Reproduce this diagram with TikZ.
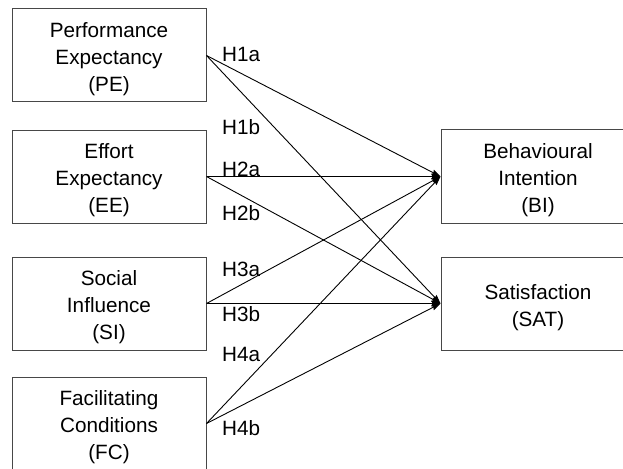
\documentclass[tikz,border=0pt]{standalone}
\usepackage{fontspec}
\setmainfont{Liberation Sans}
\usetikzlibrary{arrows.meta}
\newcommand\topst{\rule{0pt}{23pt}}
\begin{document}
\begin{tikzpicture}[x=1pt,y=-1pt,
  box/.style={draw=black!72,line width=1pt,minimum width=194pt,minimum height=93pt,inner sep=0pt,align=center,
    font=\fontsize{20.7}{26.9}\selectfont},
  hyp/.style={anchor=base west,inner sep=0pt,font=\fontsize{20.7}{24}\selectfont},
  conn/.style={line width=0.9pt,-{Stealth[length=9pt,width=6pt,inset=1pt]}}]
\useasboundingbox (0,0) rectangle (623,468);
\clip (0,0) rectangle (623,468);
\node[box] (pe) at (109,55.5) {\topst Performance\\Expectancy\\(PE)};
\node[box] (ee) at (109,176.5) {\topst Effort\\Expectancy\\(EE)};
\node[box] (si) at (109,303.5) {\topst Social\\Influence\\(SI)};
\node[box] (fc) at (109,423.5) {\topst Facilitating\\Conditions\\(FC)};
\node[box,minimum height=94pt] (bi) at (538,176.5) {\topst Behavioural\\Intention\\(BI)};
\node[box] (sat) at (538,303.5) {\topst Satisfaction\\(SAT)};
\foreach \s in {pe,ee,si,fc}{
  \draw[conn] (\s.east) -- (bi.west);
  \draw[conn] (\s.east) -- (sat.west);
}
\node[hyp] (h1a) at (222,61.5) {H1a};
\node[hyp] (h1b) at (222,135) {H1b};
\node[hyp] (h2a) at (222,176) {H2a};
\node[hyp] (h2b) at (222,220) {H2b};
\node[hyp] (h3a) at (222,276.5) {H3a};
\node[hyp] (h3b) at (222,321.5) {H3b};
\node[hyp] (h4a) at (222,361.5) {H4a};
\node[hyp] (h4b) at (222,435) {H4b};
\end{tikzpicture}
\end{document}
